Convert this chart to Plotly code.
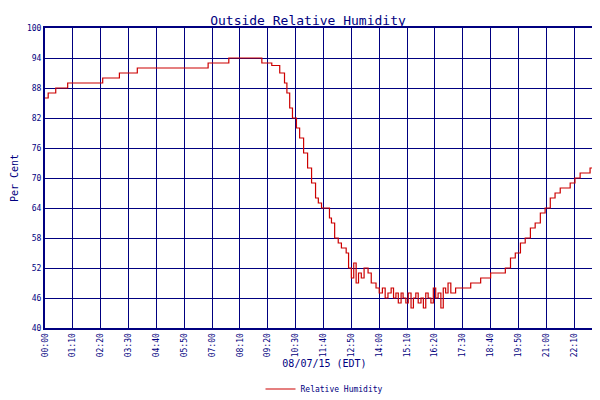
import plotly.graph_objects as go

# minutes since midnight and relative humidity (%)
minutes = [0, 8, 27, 57, 145, 187, 232, 300, 405, 410, 415, 462, 545, 570, 590, 602, 608, 615, 622,
           632, 640, 650, 660, 670, 680, 687, 695, 707, 715, 720, 728, 737, 745, 757, 763, 770, 776,
           782, 788, 795, 802, 812, 820, 832, 840, 848, 855, 862, 870, 876, 882, 888, 895, 900, 907,
           913, 920, 926, 932, 938, 945, 951, 957, 963, 970, 976, 982, 988, 995, 1001, 1007, 1013,
           1020, 1032, 1045, 1057, 1070, 1082, 1095, 1107, 1120, 1132, 1145, 1157, 1170, 1182, 1195,
           1207, 1220, 1232, 1245, 1257, 1270, 1282, 1295, 1307, 1320, 1332, 1345, 1357, 1370, 1382,
           1392, 1400, 1405]
humidity = [86, 87, 88, 89, 90, 91, 92, 92, 92, 93, 93, 94, 93, 92.5, 91, 89, 87, 84, 82,
            80, 78, 75, 72, 69, 66, 65, 64, 64, 62, 61, 58, 57, 56, 55, 52, 50, 53,
            49, 51, 50, 52, 51, 49, 48, 47, 48, 46, 47, 48, 46, 47, 45, 47, 46, 45,
            47, 44, 46, 47, 45, 46, 44, 47, 46, 45, 48, 46, 47, 44, 48, 47, 49,
            47, 48, 48, 48, 49, 49, 50, 50, 51, 51, 51, 52, 54, 55, 57,
            58, 60, 61, 63, 64, 66, 67, 68, 68, 69, 70, 71, 71, 72, 73,
            74, 75, 76]

tick_vals = list(range(0, 1401, 70))
tick_text = ["%02d:%02d" % (v // 60, v % 60) for v in tick_vals]
y_ticks = list(range(40, 101, 6))

navy = "#000080"
mono = "DejaVu Sans Mono"

fig = go.Figure()
fig.add_trace(go.Scatter(x=minutes, y=humidity, mode="lines", line_shape="hv",
                         line=dict(color="#cc0000", width=1.2), name="Relative Humidity"))

fig.update_layout(
    width=600, height=400,
    margin=dict(l=37, r=4, t=20, b=63),
    title=dict(text="Outside Relative Humidity", x=0.5, y=0.98, xanchor="center",
               font=dict(family=mono, size=13, color=navy)),
    plot_bgcolor="white", paper_bgcolor="white",
    font=dict(family=mono, size=8, color=navy),
    showlegend=True,
    legend=dict(orientation="h", x=0.5, xanchor="center", y=-0.155, yanchor="top",
                font=dict(family=mono, size=8, color=navy)),
)
fig.update_xaxes(range=[0, 1405], tickvals=tick_vals, ticktext=tick_text, tickangle=-90,
                 automargin=False, ticks="", ticklen=0,
                 showgrid=True, gridcolor=navy, gridwidth=1, showline=True, linecolor=navy,
                 linewidth=2, mirror=True, zeroline=False,
                 title=dict(text="08/07/15 (EDT)", standoff=4, font=dict(family=mono, size=10, color=navy)))
fig.update_yaxes(range=[40, 100], tickvals=y_ticks, showgrid=True, gridcolor=navy, gridwidth=1,
                 automargin=False,
                 showline=True, linecolor=navy, linewidth=2, mirror=True, zeroline=False,
                 title=dict(text="Per Cent", standoff=6, font=dict(family=mono, size=10, color=navy)))

fig.write_html("out.html")
